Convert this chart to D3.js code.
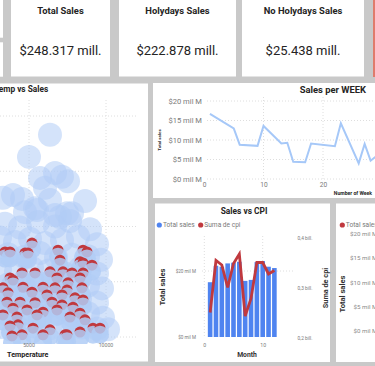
<!DOCTYPE html>
<html><head><meta charset="utf-8">
<script src="https://cdn.jsdelivr.net/npm/d3@7"></script>
<style>body{margin:0;background:#c9c9c9;overflow:hidden} svg{display:block;font-family:Roboto, "Noto Sans", sans-serif;}</style>
</head><body><svg id="c" width="375" height="366"></svg>
<script>
// ---------- DATA ----------
const cardTitles = ["Total Sales", "Holydays Sales", "No Holydays Sales"];
const cardValues = ["$248.317 mill.", "$222.878 mill.", "$25.438 mill."];

const weekNums  = [1, 5, 6, 9, 10, 13, 14, 15, 17, 18, 22, 23, 26, 27, 28, 29, 30];
const weekSales = [16.7, 13.0, 8.8, 8.5, 13.6, 9.1, 9.3, 4.4, 4.3, 9.1, 8.4, 14.3, 4.0, 9.0, 4.7, 5.9, 7.5];
const weekYTicks = [0, 5, 10, 15, 20];
const weekXTicks = [0, 10, 20, 30];

const months     = [1, 2, 3, 4, 5, 6, 7, 8, 9, 10, 11, 12];
const monthSales = [16.6, 21.6, 21.3, 22.3, 22.5, 22.8, 17.0, 17.3, 22.7, 23.0, 21.3, 20.9];
const monthCpi   = [0.251, 0.355, 0.346, 0.301, 0.349, 0.368, 0.244, 0.279, 0.351, 0.351, 0.328, 0.335];
const cpiLeftTicks  = [0, 20];
const cpiRightTicks = [0.2, 0.3, 0.4];
const cpiXTicks     = [0, 10];
const rightPanelTicks = [0, 5, 10, 15, 20];

const tempTicks = [5000, 10000];
const scatterGrid = [0, 1, 2, 3, 4];
// [temperature, sales] bubbles
const scatterBlue = [
  [6364,3.66],[5000,3.26],[5715,2.88],[6689,2.97],[7143,2.90],[7533,2.82],[6039,2.70],[8637,2.46],
  [3961,2.57],[3312,2.52],[4546,2.50],[7793,2.24],[6364,2.48],[5390,2.33],[6689,2.21],[4740,2.26],
  [5520,2.30],[7013,2.17],[7468,2.24],
  [3442,2.05],[4416,1.98],[5585,2.08],[6689,2.00],[7663,2.10],[8961,1.95],
  [3117,1.80],[4091,1.72],[5065,1.78],[6039,1.70],[7143,1.75],[8182,1.82],[9416,1.68],
  [3637,1.50],[4675,1.45],[5715,1.52],[6754,1.44],[7793,1.49],[8831,1.46],[9676,1.40],
  [3117,1.22],[4156,1.18],[5195,1.25],[6234,1.20],[7273,1.16],[8312,1.24],[9416,1.15],
  [3637,0.95],[4675,0.92],[5715,0.97],[6754,0.90],[7793,0.96],[8831,0.93],[9741,0.88],
  [3117,0.68],[4156,0.65],[5195,0.70],[6234,0.66],[7273,0.64],[8312,0.69],[9416,0.62],
  [3637,0.40],[4675,0.42],[5715,0.38],[6754,0.41],[7793,0.39],[8831,0.43],[9806,0.35],
  [3247,0.18],[4286,0.17],[5325,0.19],[6364,0.16],[7520,0.18],[8442,0.17],[9416,0.15],[10130,0.14]
];
const scatterRed = [
  [5195,1.70],[3442,1.54],[3766,1.54],[4740,1.52],[4935,1.52],[6883,1.57],[8507,1.57],[8767,1.54],
  [7013,1.39],[8312,1.36],[8507,1.34],[9091,1.30],
  [4546,1.16],[5390,1.16],[6364,1.18],[7208,1.18],[7793,1.16],[8507,1.16],
  [3766,1.07],[3961,1.03],[6818,1.07],[7533,0.98],[8312,1.07],
  [3312,0.89],[4611,0.90],[5909,0.90],[6689,0.89],[7468,0.85],[8442,0.89],
  [3637,0.80],[5195,0.81],[6169,0.76],[7143,0.76],[7987,0.71],[8507,0.67],
  [3572,0.63],[4416,0.63],[5390,0.62],[6494,0.63],[7143,0.58],[7857,0.54],
  [3961,0.52],[4870,0.49],[5909,0.45],[6818,0.49],[8312,0.43],
  [3312,0.40],[4221,0.36],[5520,0.40],[7663,0.36],[8637,0.31],
  [3766,0.20],[4286,0.22],[5260,0.16],[6364,0.13],[7338,0.04],[8312,0.09],[9156,0.16],[9611,0.16],
  [3896,0.02],[4546,0.04],[5909,0.04],[7468,0.04]
];

// ---------- DRAW ----------
const svg = d3.select("#c");
const TXT = "#252423", TICK = "#7a7a7a", GRID = "#dedede";
const BUB = "#b0ccf6";
const panel = (x, y, w, h) => svg.append("rect").attr("x", x).attr("y", y).attr("width", w).attr("height", h).attr("fill", "#fff");

// left partial panels & red edge
panel(0, 0, 3, 37.7); panel(0, 42.3, 3, 34.4);
svg.append("rect").attr("x", 373).attr("y", 0).attr("width", 2).attr("height", 77).attr("fill", "#e07b6c");

// cards
const cardBoxes = [[11, 99], [119, 117], [242, 122]];
cardBoxes.forEach((b, i) => {
  panel(b[0], 0, b[1], 76.5);
  svg.append("text").attr("x", b[0] + b[1] / 2).attr("y", 13.5).attr("text-anchor", "middle")
    .attr("font-size", 9.4).attr("font-weight", 700).attr("fill", TXT).text(cardTitles[i]);
  svg.append("text").attr("x", b[0] + b[1] / 2).attr("y", 54.5).attr("text-anchor", "middle")
    .attr("font-size", 13).attr("fill", TXT).text(cardValues[i]);
});

// ---------- Scatter ----------
panel(0, 83.5, 148, 278);
const sx = d3.scaleLinear().domain([5000, 10000]).range([29, 106]);
const sy = d3.scaleLinear().domain([0, 4]).range([337, 116]);
svg.append("defs").append("clipPath").attr("id", "sc").append("rect").attr("x", 0).attr("y", 96).attr("width", 148).attr("height", 248);
const sg = svg.append("g");
sg.selectAll(".hg").data(scatterGrid).join("line").attr("x1", 0).attr("x2", 137)
  .attr("y1", d => sy(d)).attr("y2", d => sy(d)).attr("stroke", GRID).attr("stroke-dasharray", "1,2");
sg.selectAll(".vg").data(tempTicks).join("line").attr("x1", d => sx(d)).attr("x2", d => sx(d))
  .attr("y1", 100).attr("y2", 337).attr("stroke", GRID).attr("stroke-dasharray", "1,2");
const pg = sg.append("g").attr("clip-path", "url(#sc)");
pg.selectAll(".b").data(scatterBlue).join("circle").attr("cx", d => sx(d[0])).attr("cy", d => sy(d[1]))
  .attr("r", 12).attr("fill", BUB).attr("fill-opacity", 0.55);
// red bubbles partially covered by the blue ones below them (top to bottom order)
scatterRed.slice().sort((a, b) => b[1] - a[1]).forEach(d => {
  pg.append("circle").attr("cx", sx(d[0])).attr("cy", sy(d[1])).attr("r", 5.5).attr("fill", "#c0393e");
  pg.append("circle").attr("cx", sx(d[0])).attr("cy", sy(d[1]) + 6.5).attr("r", 9).attr("fill", BUB).attr("fill-opacity", 0.85);
});
sg.selectAll(".xt").data(tempTicks).join("text").attr("x", d => sx(d)).attr("y", 346.5).attr("text-anchor", "middle")
  .attr("font-size", 5.2).attr("fill", TICK).text(d => d);
sg.append("text").attr("x", 7).attr("y", 356.5).attr("font-size", 7.2).attr("font-weight", 700).attr("fill", TXT).text("Temperature");
sg.append("text").attr("x", -6).attr("y", 92).attr("font-size", 8.3).attr("font-weight", 700).attr("fill", TXT).text("Temp vs Sales");

// ---------- Sales per WEEK ----------
panel(153, 83, 222, 115);
const wx = d3.scaleLinear().domain([0, 10]).range([204, 263.5]);
const wy = d3.scaleLinear().domain([0, 20]).range([179, 101]);
const wg = svg.append("g");
wg.selectAll(".hg").data(weekYTicks).join("line").attr("x1", 207).attr("x2", 375)
  .attr("y1", d => wy(d)).attr("y2", d => wy(d)).attr("stroke", GRID).attr("stroke-dasharray", "1,2");
wg.selectAll(".vg").data(weekXTicks.slice(1)).join("line").attr("x1", d => wx(d)).attr("x2", d => wx(d))
  .attr("y1", 97).attr("y2", 179).attr("stroke", GRID).attr("stroke-dasharray", "1,2");
const wax = wg.append("g").attr("transform", "translate(202,0)").call(d3.axisLeft(wy).tickValues(weekYTicks).tickSize(0).tickPadding(0).tickFormat(d => "$" + d + " mil M"));
wax.select(".domain").remove();
wax.selectAll("text").attr("font-size", 7.6).attr("fill", TICK).attr("font-family", "Roboto");
const wxa = wg.append("g").attr("transform", "translate(0,182)").call(d3.axisBottom(wx).tickValues(weekXTicks).tickSize(0).tickPadding(0));
wxa.select(".domain").remove();
wxa.selectAll("text").attr("font-size", 6.6).attr("fill", TICK).attr("font-family", "Roboto");
wg.append("path").datum(weekNums.map((w, i) => [w, weekSales[i]]))
  .attr("d", d3.line().x(d => wx(d[0])).y(d => wy(d[1])))
  .attr("fill", "none").attr("stroke", "#a6c8f8").attr("stroke-width", 2);
wg.append("text").attr("x", 366).attr("y", 93).attr("text-anchor", "end").attr("font-size", 9.4).attr("font-weight", 700).attr("fill", TXT).text("Sales per WEEK");
wg.append("text").attr("x", 372).attr("y", 195).attr("text-anchor", "end").attr("font-size", 5.1).attr("font-weight", 700).attr("fill", TXT).text("Number of Week");
wg.append("text").attr("transform", "translate(161,140) rotate(-90)").attr("text-anchor", "middle").attr("font-size", 4.4).attr("font-weight", 700).attr("fill", TXT).text("Total sales");

// ---------- Sales vs CPI ----------
panel(155, 203.5, 175, 158.5);
const cx = d3.scaleLinear().domain([0, 10]).range([204.3, 262.7]);
const cyL = d3.scaleLinear().domain([0, 30]).range([337, 238]);
const cyR = d3.scaleLinear().domain([0.2, 0.4]).range([338, 238]);
const cg = svg.append("g");
cg.selectAll(".hg").data([20]).join("line").attr("x1", 202).attr("x2", 293)
  .attr("y1", d => cyL(d)).attr("y2", d => cyL(d)).attr("stroke", GRID).attr("stroke-dasharray", "1,2");
cg.selectAll(".vg").data(cpiXTicks).join("line").attr("x1", d => cx(d)).attr("x2", d => cx(d))
  .attr("y1", 236).attr("y2", 337).attr("stroke", GRID).attr("stroke-dasharray", "1,2");
cg.selectAll(".bar").data(months).join("rect")
  .attr("x", (d) => cx(d) - 2.3).attr("width", 4.6)
  .attr("y", (d, i) => cyL(monthSales[i])).attr("height", (d, i) => cyL(0) - cyL(monthSales[i]))
  .attr("fill", "#4f84f0");
cg.append("path").datum(months.map((m, i) => [m, monthCpi[i]]))
  .attr("d", d3.line().x(d => cx(d[0])).y(d => cyR(d[1])))
  .attr("fill", "none").attr("stroke", "#c0393e").attr("stroke-width", 2.8);
const cla = cg.append("g").attr("transform", "translate(196,0)").call(d3.axisLeft(cyL).tickValues(cpiLeftTicks).tickSize(0).tickPadding(0).tickFormat(d => "$" + d + " mil M"));
cla.select(".domain").remove();
cla.selectAll("text").attr("font-size", 4.6).attr("fill", TICK).attr("font-family", "Roboto");
const cra = cg.append("g").attr("transform", "translate(297.5,0)").call(d3.axisRight(cyR).tickValues(cpiRightTicks).tickSize(0).tickPadding(0).tickFormat(d => d3.format(".1f")(d).replace(".", ",") + " bill."));
cra.select(".domain").remove();
cra.selectAll("text").attr("font-size", 4.8).attr("fill", TICK).attr("font-family", "Roboto");
const cxa = cg.append("g").attr("transform", "translate(0,343)").call(d3.axisBottom(cx).tickValues(cpiXTicks).tickSize(0).tickPadding(0));
cxa.select(".domain").remove();
cxa.selectAll("text").attr("font-size", 5.2).attr("fill", TICK).attr("font-family", "Roboto");
cg.append("text").attr("x", 244).attr("y", 214).attr("text-anchor", "middle").attr("font-size", 8.4).attr("font-weight", 700).attr("fill", TXT).text("Sales vs CPI");
cg.append("text").attr("x", 247).attr("y", 356.5).attr("text-anchor", "middle").attr("font-size", 6.8).attr("font-weight", 700).attr("fill", "#333").text("Month");
cg.append("text").attr("transform", "translate(164.5,287) rotate(-90)").attr("text-anchor", "middle").attr("font-size", 7.6).attr("font-weight", 700).attr("fill", "#333").text("Total sales");
cg.append("text").attr("transform", "translate(328,288) rotate(-90)").attr("text-anchor", "middle").attr("font-size", 7.3).attr("font-weight", 700).attr("fill", "#333").text("Suma de cpi");
const legend = [["Total sales", "#4f84f0", 159.3], ["Suma de cpi", "#c0393e", 200.7]];
legend.forEach(l => {
  cg.append("circle").attr("cx", l[2]).attr("cy", 225).attr("r", 2.6).attr("fill", l[1]);
  cg.append("text").attr("x", l[2] + 3.6).attr("y", 227.3).attr("font-size", 6.6).attr("fill", TICK).text(l[0]);
});

// ---------- Right partial panel ----------
panel(336, 203.5, 39, 158.5);
const ry = d3.scaleLinear().domain([0, 20]).range([331, 234]);
const rg = svg.append("g");
rg.append("circle").attr("cx", 342.3).attr("cy", 225).attr("r", 2.6).attr("fill", "#c0393e");
rg.append("text").attr("x", 345.8).attr("y", 227.3).attr("font-size", 6.6).attr("fill", TICK).text("Total sales");
const rticks = rg.selectAll(".rt").data(rightPanelTicks).join("text")
  .attr("x", 350).attr("y", d => ry(d) + 2)
  .attr("font-size", 6.2).attr("fill", "#8a8a8a").attr("text-anchor", "start")
  .text(d => "$" + d + " mil M");
// right-align the labels on the widest one
const widths = rticks.nodes().map(n => n.getComputedTextLength());
const maxW = d3.max(widths);
rticks.attr("x", (d, i) => 350 + maxW - widths[i]);
rg.append("text").attr("transform", "translate(345,294) rotate(-90)").attr("text-anchor", "middle").attr("font-size", 7.6).attr("font-weight", 700).attr("fill", "#333").text("Total sales");
</script></body></html>
